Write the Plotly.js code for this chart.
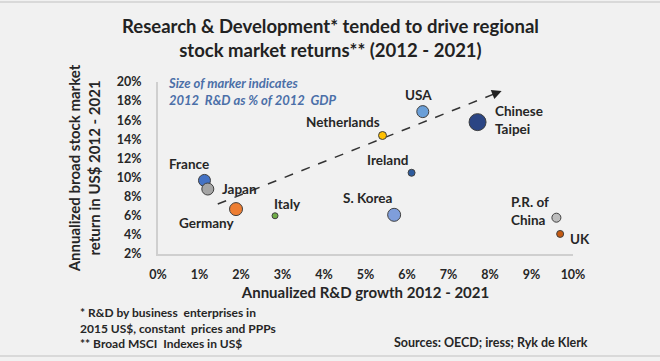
<!DOCTYPE html>
<html>
<head>
<meta charset="utf-8">
<script src="https://cdn.plot.ly/plotly-3.0.1.min.js"></script>
<style>
  html, body { margin: 0; padding: 0; background: #f1f1f1; }
  #chart { width: 660px; height: 361px; }
</style>
</head>
<body>
<div id="chart"></div>
<script>
// ---- Data ----
const countries = ["France", "Japan", "Germany", "Italy", "Netherlands", "S. Korea", "Ireland", "USA", "Chinese<br>Taipei", "P.R. of<br>China", "UK"];
const rdGrowth = [1.12, 1.2, 1.88, 2.82, 5.41, 5.69, 6.11, 6.38, 7.7, 9.6, 9.69];       // Annualized R&D growth 2012-2021 (%)
const stockReturn = [9.7, 8.8, 6.7, 6.0, 14.4, 6.1, 10.5, 16.9, 15.8, 5.8, 4.1];       // Annualized stock market return (%)
const rdGdp2012 = [2.4, 2.4, 2.6, 1.2, 1.6, 2.6, 1.4, 2.4, 3.4, 1.8, 1.4];             // relative marker size (R&D % of GDP, est.)
const trendX = [1.44, 8.28];
const trendY = [7.23, 19.06];
const xTickVals = [0, 1, 2, 3, 4, 5, 6, 7, 8, 9, 10];
const xTickText = ["0%", "1%", "2%", "3%", "4%", "5%", "6%", "7%", "8%", "9%", "10%"];
const yTickVals = [2, 4, 6, 8, 10, 12, 14, 16, 18, 20];
const yTickText = ["2%", "4%", "6%", "8%", "10%", "12%", "14%", "16%", "18%", "20%"];

// ---- Styles ----
const colors = ["#4472C4", "#A5A5A5", "#ED7D31", "#70AD47", "#FFC000", "#7F9EDB", "#2E5C9E", "#6A9FD8", "#2B4584", "#BDBDBD", "#C55A11"];
// label placement: [xshift, yshift, xanchor]
const labelPos = [[-15, 16, "center"], [12, 0, "left"], [-29, -14, "center"], [12, 12, "center"], [-40, 14, "center"], [-27, 17, "center"], [-24, 13, "center"], [-4, 17, "center"], [15, 2, "left"], [-47, 7, "left"], [20, -5, "center"]];

const FONT = "Lato, 'Open Sans', sans-serif";
const TXT = "#262626";
const PW = 415, PH = 172; // plot area size in px

const traces = [
  {
    x: trendX, y: trendY, mode: "lines", type: "scatter",
    line: { color: "#333333", width: 1.5, dash: "dash" },
    hoverinfo: "skip", showlegend: false
  },
  {
    x: rdGrowth, y: stockReturn, mode: "markers", type: "scatter",
    text: countries,
    marker: {
      size: rdGdp2012, sizemode: "diameter", sizeref: 0.2,
      color: colors, line: { color: "#404040", width: 1 }, opacity: 1
    },
    showlegend: false
  }
];

const annotations = countries.map((c, i) => ({
  x: rdGrowth[i], y: stockReturn[i], xref: "x", yref: "y",
  text: c, showarrow: false,
  xshift: labelPos[i][0], yshift: labelPos[i][1],
  xanchor: labelPos[i][2], yanchor: "middle", align: "left",
  font: { family: FONT, size: 13.5, color: TXT, weight: "bold" }
}));

// arrow head at the end of the trend line
annotations.push({
  x: trendX[1], y: trendY[1], xref: "x", yref: "y",
  ax: trendX[1] - 0.25, ay: trendY[1] - 0.25 * (trendY[1] - trendY[0]) / (trendX[1] - trendX[0]),
  axref: "x", ayref: "y", text: "", showarrow: true,
  arrowhead: 2, arrowsize: 1.3, arrowwidth: 1.5, arrowcolor: "#222"
});

// title
annotations.push({
  xref: "paper", yref: "paper", x: (330 - 158) / PW, y: 1 + (82 - 38) / PH, xanchor: "center", yanchor: "middle",
  text: "Research & Development* tended to drive regional<br>stock market returns** (2012 - 2021)",
  showarrow: false, align: "center",
  font: { family: FONT, size: 18.5, color: "#222", weight: "bold" }
});

// marker-size note
annotations.push({
  xref: "paper", yref: "paper", x: 0.02, y: 1 - 9 / PH, xanchor: "left", yanchor: "middle",
  text: "Size of marker indicates<br>2012  R&D as % of 2012  GDP", align: "left", showarrow: false,
  font: { family: FONT, size: 13, color: "#4B6FA8", style: "italic", weight: "bold" }
});

// footnotes
const footnote = "* R&D by business  enterprises in<br>2015 US$, constant  prices and PPPs<br>** Broad MSCI  Indexes in US$";
annotations.push({
  xref: "paper", yref: "paper", x: -80 / PW, y: -49 / PH, xanchor: "left", yanchor: "top",
  text: footnote, align: "left", showarrow: false,
  font: { family: FONT, size: 12, color: TXT, weight: "bold" }
});
annotations.push({
  xref: "paper", yref: "paper", x: 1 + 17 / PW, y: -88 / PH, xanchor: "right", yanchor: "middle",
  text: "Sources: OECD; iress; Ryk de Klerk", showarrow: false,
  font: { family: FONT, size: 12.5, color: TXT, weight: "bold" }
});

const layout = {
  width: 660, height: 361, autosize: false,
  paper_bgcolor: "#f1f1f1", plot_bgcolor: "#f1f1f1",
  margin: { l: 158, r: 87, t: 82, b: 107 },
  xaxis: {
    range: [0, 10], tickmode: "array", tickvals: xTickVals, ticktext: xTickText,
    showgrid: false, zeroline: false,
    showline: true, linecolor: "#cfcfcf", linewidth: 2,
    ticks: "outside", ticklen: 8, tickcolor: "rgba(0,0,0,0)",
    tickfont: { family: FONT, size: 12.5, color: TXT, weight: "bold" },
    title: { text: "Annualized R&D growth 2012 - 2021", standoff: 6,
             font: { family: FONT, size: 15, color: TXT, weight: "bold" } }
  },
  yaxis: {
    range: [2, 20], tickmode: "array", tickvals: yTickVals, ticktext: yTickText,
    showgrid: false, zeroline: false,
    showline: true, linecolor: "#cfcfcf", linewidth: 2,
    ticks: "outside", ticklen: 12, tickcolor: "rgba(0,0,0,0)",
    tickfont: { family: FONT, size: 12.5, color: TXT, weight: "bold" },
    title: { text: "Annualized broad stock market<br>return in US$ 2012 - 2021", standoff: 13,
             font: { family: FONT, size: 15, color: TXT, weight: "bold" } }
  },
  annotations: annotations,
  shapes: [
    { type: "line", xref: "paper", yref: "paper", x0: -158 / PW, x1: 1 + 87 / PW, y0: 1 + 80 / PH, y1: 1 + 80 / PH, line: { color: "#d9d9d9", width: 2 } },
    { type: "line", xref: "paper", yref: "paper", x0: -158 / PW, x1: 1 + 87 / PW, y0: -102 / PH, y1: -102 / PH, line: { color: "#d9d9d9", width: 2 } }
  ],
  hovermode: false
};

Plotly.newPlot("chart", traces, layout, { displayModeBar: false, staticPlot: true });
</script>
</body>
</html>
